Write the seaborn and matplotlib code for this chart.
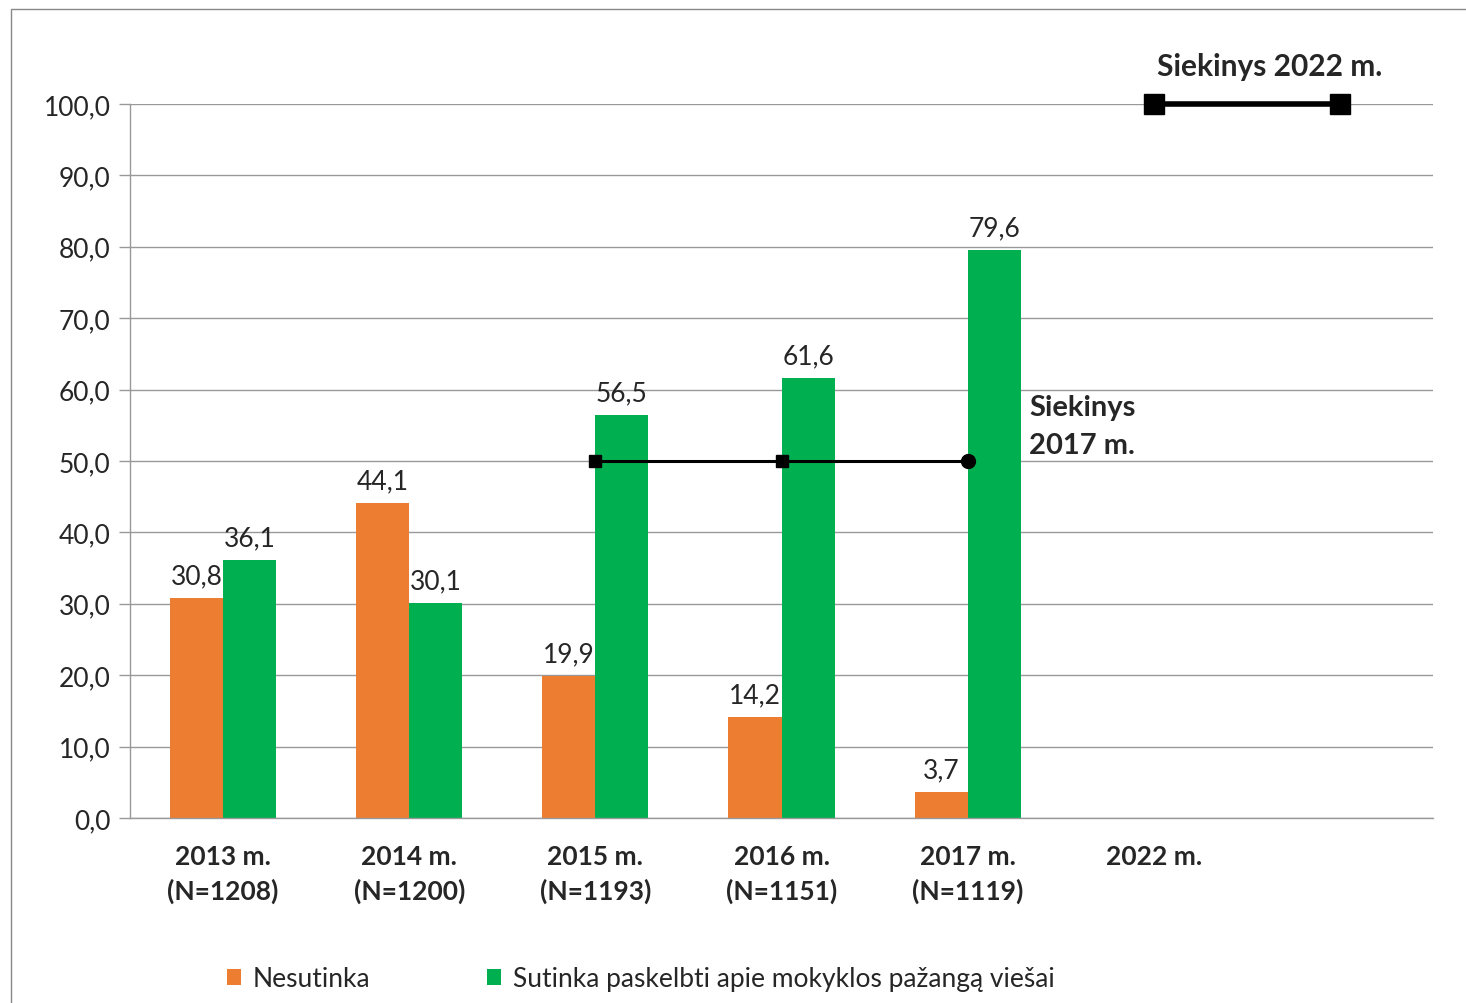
import pandas as pd
import numpy as np
import matplotlib.pyplot as plt
import seaborn as sns
from matplotlib.patches import Rectangle

categories = ["2013 m.\n(N=1208)", "2014 m.\n(N=1200)", "2015 m.\n(N=1193)",
              "2016 m.\n(N=1151)", "2017 m.\n(N=1119)", "2022 m.", " "]
nesutinka = [30.8, 44.1, 19.9, 14.2, 3.7]
sutinka = [36.1, 30.1, 56.5, 61.6, 79.6]
series_names = ["Nesutinka", "Sutinka paskelbti apie mokyklos pažangą viešai"]
target_2017_x = ["2015 m.\n(N=1193)", "2016 m.\n(N=1151)", "2017 m.\n(N=1119)"]
target_2017 = [50.0, 50.0, 50.0]
target_2022_x = ["2022 m.", " "]
target_2022 = [100.0, 100.0]
yticks = np.arange(0, 101, 10)

sns.set_style("white")
plt.rcParams['font.family'] = ['Lato', 'DejaVu Sans']

rows = []
for c, a, b in zip(categories, nesutinka, sutinka):
    rows.append((c, series_names[0], a))
    rows.append((c, series_names[1], b))
df = pd.DataFrame(rows, columns=["year", "group", "value"])

fig = plt.figure(figsize=(14.66, 10.04), dpi=100)
ax = fig.add_axes([130 / 1466, 1 - 819 / 1004, (1433 - 130) / 1466, (819 - 105) / 1004])

sns.barplot(data=df, x="year", y="value", hue="group", order=categories,
            hue_order=series_names, palette=["#ED7D31", "#00B050"],
            width=0.57, saturation=1, linewidth=0, ax=ax, legend=True)

for cont in ax.containers:
    ax.bar_label(cont, labels=[f"{v:.1f}".replace(".", ",") for v in cont.datavalues],
                 fontsize=19, padding=7)

# target lines
pos = {c: i for i, c in enumerate(categories)}
ax.plot([pos[c] for c in target_2017_x[:2]], target_2017[:2], color="black", lw=2.2,
        marker="s", ms=9, zorder=5)
ax.plot([pos[c] for c in target_2017_x[1:]], target_2017[1:], color="black", lw=2.2,
        zorder=5)
ax.plot([pos[target_2017_x[-1]]], [target_2017[-1]], color="black", marker="o", ms=10, zorder=5)
ax.plot([pos[c] for c in target_2022_x], target_2022, color="black", lw=4,
        marker="s", ms=15, zorder=5, clip_on=False)

ax.text(4.33, 54.9, "Siekinys\n2017 m.", fontsize=21, fontweight="bold",
        ha="left", va="center", linespacing=1.6)
ax.text(5.62, 105.3, "Siekinys 2022 m.", fontsize=21.5, fontweight="bold",
        ha="center", va="center", clip_on=False)

ax.set_xlim(-0.5, 6.5)
ax.set_ylim(0, 100)
ax.set_yticks(yticks)
ax.set_yticklabels([f"{v:.1f}".replace(".", ",") for v in yticks], fontsize=19)
ax.set_xticks(range(len(categories)))
ax.set_xticklabels(categories, fontsize=19, fontweight="bold", linespacing=1.45)
ax.set_xticks(np.arange(-0.5, 7, 1), minor=True)
ax.tick_params(axis="x", which="major", length=0, pad=19)
ax.tick_params(axis="x", which="minor", length=8, width=1, color="#999999", direction="out")
ax.tick_params(axis="y", length=8, width=1, color="#999999", direction="out", left=True, pad=6)
ax.set_xlabel("")
ax.set_ylabel("")
ax.yaxis.grid(True, color="#999999", lw=1)
ax.set_axisbelow(True)
for s in ["top", "right"]:
    ax.spines[s].set_visible(False)
for s in ["left", "bottom"]:
    ax.spines[s].set_color("#999999")
    ax.spines[s].set_linewidth(1)

handles, labels = ax.get_legend_handles_labels()
ax.legend_.remove()
fig.legend(handles, labels, loc="center", bbox_to_anchor=(0.437, 0.024), ncol=2,
           frameon=False, fontsize=19, handlelength=0.55, handleheight=0.55,
           handletextpad=0.45, columnspacing=4.4)

fig.patches.append(Rectangle((11 / 1466, -0.05), 1.2, 1.05 - 10 / 1004, fill=False,
                             edgecolor="#888888", lw=1, transform=fig.transFigure))

fig.savefig("out.png", dpi=100)
